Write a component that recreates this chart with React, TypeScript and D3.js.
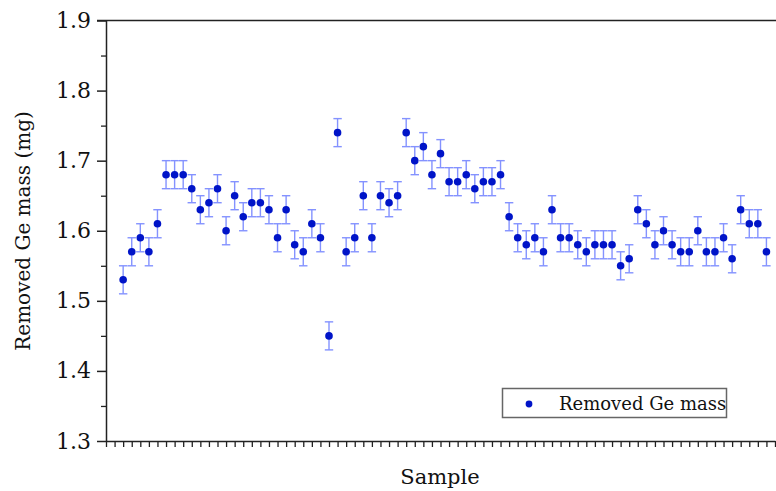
import React, { useRef, useEffect } from "react";
import * as d3 from "d3";

// removed Ge mass per sample (mg)
const masses = [
  1.53, 1.57, 1.59, 1.57, 1.61, 1.68, 1.68, 1.68, 1.66, 1.63,
  1.64, 1.66, 1.6, 1.65, 1.62, 1.64, 1.64, 1.63, 1.59, 1.63,
  1.58, 1.57, 1.61, 1.59, 1.45, 1.74, 1.57, 1.59, 1.65, 1.59,
  1.65, 1.64, 1.65, 1.74, 1.7, 1.72, 1.68, 1.71, 1.67, 1.67,
  1.68, 1.66, 1.67, 1.67, 1.68, 1.62, 1.59, 1.58, 1.59, 1.57,
  1.63, 1.59, 1.59, 1.58, 1.57, 1.58, 1.58, 1.58, 1.55, 1.56,
  1.63, 1.61, 1.58, 1.6, 1.58, 1.57, 1.57, 1.6, 1.57, 1.57,
  1.59, 1.56, 1.63, 1.61, 1.61, 1.57,
];
const errors = masses.map(() => 0.02);
const yTicks = [1.3, 1.4, 1.5, 1.6, 1.7, 1.8, 1.9];
const seriesName = "Removed Ge mass";

const FONT = "'DejaVu Serif', serif";

function App() {
  const svgRef = useRef<SVGSVGElement>(null);

  useEffect(() => {
    const width = 776;
    const height = 491;
    const margin = { top: 20.5, right: 1, bottom: 50, left: 106 };

    const svg = d3.select(svgRef.current);
    svg.selectAll("*").remove();

    const x = d3.scaleLinear()
      .domain([0, 78])
      .range([margin.left, width - margin.right]);

    const y = d3.scaleLinear()
      .domain([1.3, 1.9])
      .range([height - margin.bottom, margin.top]);

    const data = masses.map((m, i) => ({ idx: i + 2, m, e: errors[i] }));

    // top frame line
    svg.append("line")
      .attr("x1", margin.left - 9)
      .attr("x2", width)
      .attr("y1", y(1.9))
      .attr("y2", y(1.9))
      .attr("stroke", "#222")
      .attr("stroke-width", 1.5);

    // x axis: a tick per sample, no labels
    const xAxis = svg.append("g")
      .attr("transform", `translate(0, ${y(1.3)})`)
      .call(d3.axisBottom(x).tickValues(d3.range(0, 79)).tickSize(6).tickFormat(() => "").tickSizeOuter(0));
    xAxis.select(".domain").attr("stroke", "#222").attr("stroke-width", 1.5);
    xAxis.selectAll(".tick line").attr("stroke", "#222").attr("stroke-width", 1.3);

    // y axis minor ticks
    const yMinor = svg.append("g")
      .attr("transform", `translate(${margin.left}, 0)`)
      .call(d3.axisLeft(y).tickValues([1.35, 1.45, 1.55, 1.65, 1.75, 1.85]).tickSize(5).tickFormat(() => "").tickSizeOuter(0));
    yMinor.select(".domain").remove();
    yMinor.selectAll(".tick line").attr("stroke", "#222").attr("stroke-width", 1.3);

    // y axis major
    const yAxis = svg.append("g")
      .attr("transform", `translate(${margin.left}, 0)`)
      .call(d3.axisLeft(y).tickValues(yTicks).tickSize(9).tickPadding(6).tickFormat(d3.format(".1f")).tickSizeOuter(0));
    yAxis.select(".domain").attr("stroke", "#222").attr("stroke-width", 1.5);
    yAxis.selectAll(".tick line").attr("stroke", "#222").attr("stroke-width", 1.5);
    yAxis.selectAll("text")
      .attr("font-family", FONT)
      .attr("font-size", 22)
      .attr("fill", "#111");

    // error bars
    const eb = svg.append("g")
      .attr("stroke", "#6f80ff")
      .attr("stroke-width", 1.4)
      .attr("opacity", 0.85);

    eb.selectAll("line.v")
      .data(data)
      .enter()
      .append("line")
      .attr("x1", d => x(d.idx))
      .attr("x2", d => x(d.idx))
      .attr("y1", d => y(d.m - d.e))
      .attr("y2", d => y(d.m + d.e));

    eb.selectAll("line.top")
      .data(data)
      .enter()
      .append("line")
      .attr("x1", d => x(d.idx) - 4.2)
      .attr("x2", d => x(d.idx) + 4.2)
      .attr("y1", d => y(d.m + d.e))
      .attr("y2", d => y(d.m + d.e));

    eb.selectAll("line.bot")
      .data(data)
      .enter()
      .append("line")
      .attr("x1", d => x(d.idx) - 4.2)
      .attr("x2", d => x(d.idx) + 4.2)
      .attr("y1", d => y(d.m - d.e))
      .attr("y2", d => y(d.m - d.e));

    // points
    svg.append("g")
      .selectAll("circle")
      .data(data)
      .enter()
      .append("circle")
      .attr("cx", d => x(d.idx))
      .attr("cy", d => y(d.m))
      .attr("r", 3.8)
      .attr("fill", "#0014c8");

    // legend
    const lg = svg.append("g");
    lg.append("rect")
      .attr("x", 502.5)
      .attr("y", 388.5)
      .attr("width", 224)
      .attr("height", 29)
      .attr("fill", "white")
      .attr("stroke", "#666")
      .attr("stroke-width", 1.5);
    lg.append("circle")
      .attr("cx", 529)
      .attr("cy", 404)
      .attr("r", 3.4)
      .attr("fill", "#0014c8");
    lg.append("text")
      .attr("x", 559)
      .attr("y", 410)
      .attr("font-family", FONT)
      .attr("font-size", 18)
      .attr("fill", "#111")
      .text(seriesName);

    // axis titles
    svg.append("text")
      .attr("x", 440)
      .attr("y", 484)
      .attr("text-anchor", "middle")
      .attr("font-family", FONT)
      .attr("font-size", 21)
      .attr("fill", "#111")
      .text("Sample");

    svg.append("text")
      .attr("transform", "rotate(-90)")
      .attr("x", -231)
      .attr("y", 30)
      .attr("text-anchor", "middle")
      .attr("font-family", FONT)
      .attr("font-size", 20)
      .attr("fill", "#111")
      .text("Removed Ge mass (mg)");
  }, []);

  return (
    <svg
      ref={svgRef}
      width={776}
      height={491}
      style={{ position: "absolute", left: 0, top: 0, background: "white" }}
    ></svg>
  );
}

export default App;
